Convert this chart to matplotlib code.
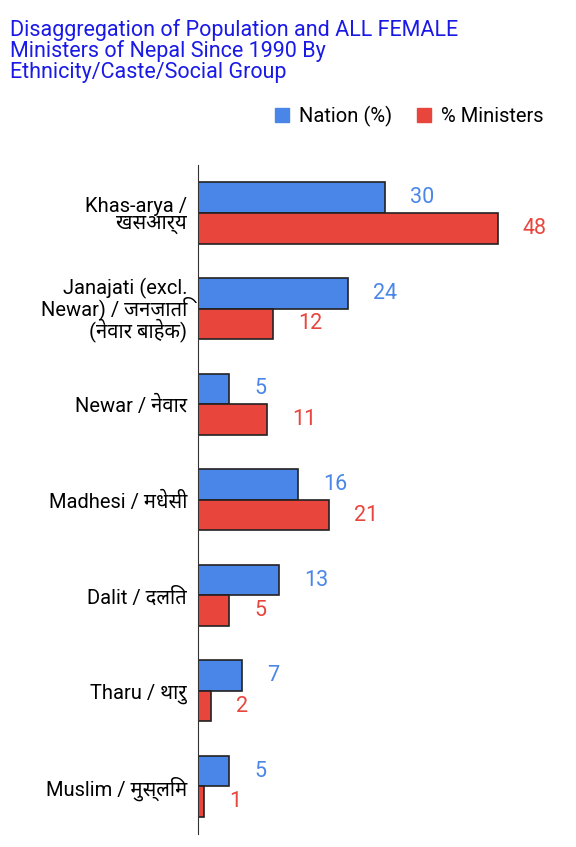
import matplotlib
matplotlib.use("Agg")
import matplotlib.pyplot as plt
import numpy as np

plt.rcParams['font.family'] = ['Roboto', 'Noto Sans Devanagari', 'Noto Sans', 'DejaVu Sans']

categories = ["Khas-arya /\nखसआर्य", "Janajati (excl.\nNewar) / जनजाति\n(नेवार बाहेक)", "Newar / नेवार",
              "Madhesi / मधेसी", "Dalit / दलित", "Tharu / थारु", "Muslim / मुस्लिम"]
nation = [30, 24, 5, 16, 13, 7, 5]
ministers = [48, 12, 11, 21, 5, 2, 1]

blue = "#4a86e8"
red = "#e8453c"

fig = plt.figure(figsize=(5.76, 8.47), dpi=100)
ax = fig.add_axes([0.344, 0.015, 0.65, 0.79])
y = np.arange(len(categories))
h = 0.32
ax.barh(y - h/2, nation, height=h, color=blue, edgecolor="#222222", linewidth=1.2)
ax.barh(y + h/2, ministers, height=h, color=red, edgecolor="#222222", linewidth=1.2)
for i in range(len(categories)):
    ax.text(nation[i] + 4, y[i] - h/2, str(nation[i]), color=blue, fontsize=15.5, va='center')
    ax.text(ministers[i] + 4, y[i] + h/2, str(ministers[i]), color=red, fontsize=15.5, va='center')
ax.set_yticks(y)
ax.set_yticklabels(categories, fontsize=14.5, linespacing=0.9)
ax.tick_params(axis='y', length=0, pad=8)
ax.set_xticks([])
ax.set_xlim(0, 60)
ax.set_ylim(len(categories) - 0.5, -0.5)
for s in ['top', 'right', 'bottom']:
    ax.spines[s].set_visible(False)
ax.spines['left'].set_color('#333333')

fig.text(0.018, 0.978, "Disaggregation of Population and ALL FEMALE\nMinisters of Nepal Since 1990 By\nEthnicity/Caste/Social Group",
         color="#1a1ae6", fontsize=15.5, va='top', ha='left', linespacing=0.98)

from matplotlib.patches import Patch
ax.legend(handles=[Patch(color=blue, label="Nation (%)"), Patch(color=red, label="% Ministers")],
          loc='lower right', bbox_to_anchor=(0.97, 1.03), ncol=2, frameon=False, fontsize=14.5,
          handlelength=0.7, handleheight=0.7, columnspacing=1.2, handletextpad=0.5)

fig.savefig("out.png", dpi=100)
